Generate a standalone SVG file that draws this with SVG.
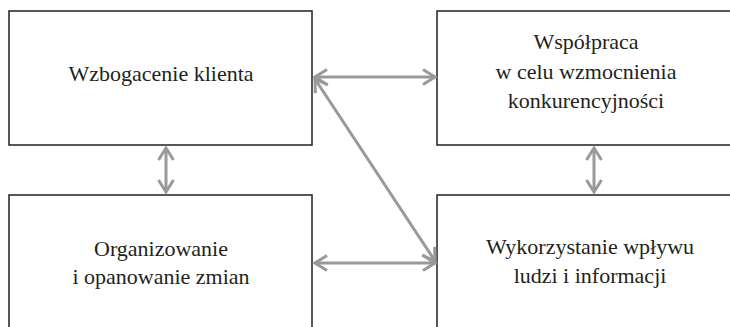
<svg xmlns="http://www.w3.org/2000/svg" width="730" height="327" viewBox="0 0 730 327">
<style>
.box{fill:#fff;stroke:#231f20;stroke-width:1.5}
.t{font-family:"Liberation Serif",serif;font-size:22px;fill:#231f20;text-anchor:middle}
.c{stroke:#999;stroke-width:3;fill:none}
</style>
<defs>
<marker id="ah" markerUnits="userSpaceOnUse" markerWidth="30" markerHeight="30" viewBox="-15 -15 30 30" refX="0" refY="0" orient="auto-start-reverse" overflow="visible">
<path d="M-12,-7.5 L0,0 L-12,7.5" fill="none" stroke="#999" stroke-width="3" stroke-linejoin="miter"/>
</marker>
</defs>
<rect width="730" height="327" fill="#fff"/>
<g id="n1"><rect class="box" x="9" y="11" width="303" height="134"/><text class="t" x="161" y="81">Wzbogacenie klienta</text></g>
<g id="n2"><rect class="box" x="437" y="11" width="300" height="134"/><text class="t" x="586" y="49">Współpraca</text><text class="t" x="586" y="79">w celu wzmocnienia</text><text class="t" x="586" y="108">konkurencyjności</text></g>
<g id="n3"><rect class="box" x="9" y="195" width="303" height="140"/><text class="t" x="161" y="256">Organizowanie</text><text class="t" x="161" y="284">i opanowanie zmian</text></g>
<g id="n4"><rect class="box" x="437" y="195" width="300" height="140"/><text class="t" x="590" y="254">Wykorzystanie wpływu</text><text class="t" x="590" y="283">ludzi i informacji</text></g>
<g id="connectors">
<line class="c" x1="315" y1="77" x2="435" y2="77" marker-start="url(#ah)" marker-end="url(#ah)"/>
<line class="c" x1="315" y1="263" x2="435" y2="263" marker-start="url(#ah)" marker-end="url(#ah)"/>
<line class="c" x1="315" y1="79" x2="435" y2="261" marker-start="url(#ah)" marker-end="url(#ah)"/>
<line class="c" x1="166" y1="148" x2="166" y2="192" marker-start="url(#ah)" marker-end="url(#ah)"/>
<line class="c" x1="594" y1="148" x2="594" y2="192" marker-start="url(#ah)" marker-end="url(#ah)"/>
</g>
</svg>
